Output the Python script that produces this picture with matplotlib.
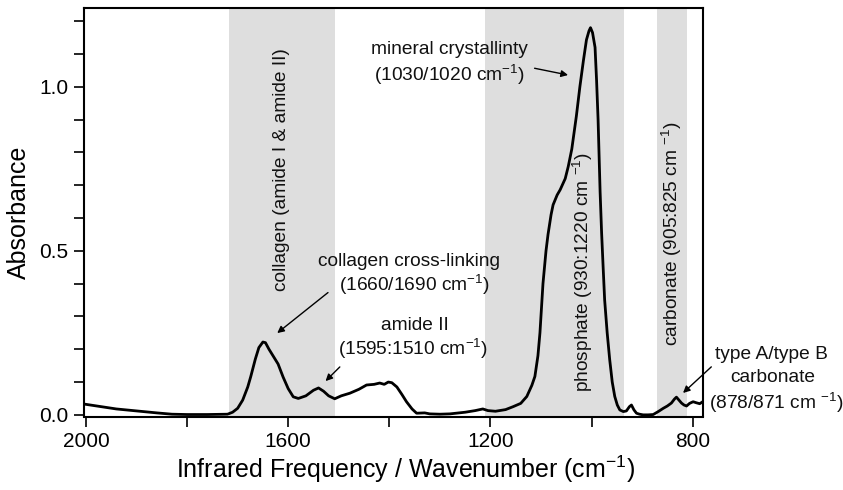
import matplotlib
matplotlib.use("Agg")
import matplotlib.pyplot as plt
from matplotlib.ticker import MultipleLocator, FixedLocator

plt.rcParams['font.family'] = ['Liberation Sans', 'DejaVu Sans']
plt.rcParams['mathtext.fontset'] = 'custom'
plt.rcParams['mathtext.rm'] = 'Liberation Sans'
plt.rcParams['mathtext.default'] = 'regular'

# spectrum
wavenumber = [2000, 1970, 1940, 1900, 1860, 1830, 1800, 1760, 1720, 1710, 1700, 1690,
              1680, 1674, 1665, 1658, 1650, 1645, 1638, 1628, 1620, 1610, 1600, 1590,
              1580, 1565, 1550, 1540, 1530, 1520, 1508, 1495, 1478, 1460, 1445, 1430,
              1419, 1410, 1402, 1395, 1385, 1375, 1366, 1355, 1346, 1330, 1320, 1300,
              1280, 1250, 1230, 1215, 1205, 1190, 1170, 1155, 1140, 1128, 1118, 1112,
              1106, 1102, 1096, 1090, 1086, 1080, 1076, 1068, 1062, 1052, 1046, 1039,
              1030, 1023, 1016, 1010, 1005, 1002, 998, 993, 990, 987, 983, 980, 977,
              974, 969, 964, 959, 954, 949, 944, 937, 931, 925, 921, 916, 911, 905,
              898, 888, 878, 868, 858, 850, 842, 836, 832, 827, 822, 817, 812, 806,
              799, 793, 786, 780]
absorbance = [0.032, 0.025, 0.018, 0.012, 0.006, 0.002, 0.001, 0.001, 0.002, 0.008, 0.02, 0.045,
              0.085, 0.117, 0.17, 0.205, 0.222, 0.22, 0.2, 0.175, 0.155, 0.115, 0.08, 0.055,
              0.05, 0.058, 0.075, 0.082, 0.072, 0.058, 0.049, 0.058, 0.066, 0.078, 0.091, 0.093,
              0.097, 0.093, 0.1, 0.098, 0.085, 0.062, 0.04, 0.018, 0.005, 0.006, 0.003, 0.002,
              0.003, 0.008, 0.013, 0.018, 0.013, 0.011, 0.016, 0.025, 0.035, 0.056, 0.09, 0.117,
              0.18, 0.25, 0.40, 0.5, 0.55, 0.61, 0.64, 0.67, 0.686, 0.72, 0.757, 0.81,
              0.91, 1.0, 1.08, 1.143, 1.17, 1.18, 1.165, 1.12, 1.02, 0.9, 0.68, 0.554, 0.45,
              0.35, 0.25, 0.168, 0.1, 0.056, 0.03, 0.015, 0.01, 0.012, 0.025, 0.03, 0.015, 0.005, 0.002,
              0.0, 0.0, 0.001, 0.01, 0.02, 0.027, 0.036, 0.048, 0.054, 0.045, 0.036, 0.03, 0.027, 0.035,
              0.04, 0.037, 0.034, 0.04]

band_start = [1717, 1211, 871]
band_end = [1508, 936, 812]

x_major = [2000, 1600, 1200, 800]
x_minor = [1800, 1400, 1000]
y_major = [0.0, 0.5, 1.0]
y_labels = ["0.0", "0.5", "1.0"]

fig = plt.figure(figsize=(8.43, 4.9), dpi=100)
ax = fig.add_axes([0.0996, 0.15, 0.7346, 0.8337])

for a, b in zip(band_start, band_end):
    ax.axvspan(a, b, color='#dedede', lw=0, zorder=0)

ax.plot(wavenumber, absorbance, color='black', lw=2.0, zorder=3)

ax.set_xlim(2004, 779)
ax.set_ylim(-0.005, 1.24)

ax.xaxis.set_major_locator(FixedLocator(x_major))
ax.xaxis.set_minor_locator(FixedLocator(x_minor))
ax.set_xticklabels([str(v) for v in x_major])
ax.yaxis.set_major_locator(FixedLocator(y_major))
ax.set_yticklabels(y_labels)
ax.yaxis.set_minor_locator(MultipleLocator(0.1))
ax.tick_params(which='both', direction='out', length=7, width=1.2, labelsize=15, pad=4)
for s in ax.spines.values():
    s.set_linewidth(1.5)

ax.set_xlabel('Infrared Frequency / Wavenumber (cm$^{-1}$)', fontsize=18)
ax.xaxis.set_label_coords(0.519, -0.092)
ax.set_ylabel('Absorbance', fontsize=18, labelpad=6)

fs = 13.8
tc = '#111111'
ax.text(1614, 0.747, 'collagen (amide I & amide II)', rotation=90, ha='center', va='center', fontsize=fs, color=tc)
ax.text(1016, 0.436, 'phosphate (930:1220 cm $^{-1}$)', rotation=90, ha='center', va='center', fontsize=fs, color=tc)
ax.text(840, 0.552, 'carbonate (905:825 cm $^{-1}$)', rotation=90, ha='center', va='center', fontsize=fs, color=tc)

ax.text(1282, 1.115, 'mineral crystallinty', ha='center', va='center', fontsize=fs, color=tc)
ax.text(1282, 1.036, '(1030/1020 cm$^{-1}$)', ha='center', va='center', fontsize=fs, color=tc)
ax.annotate('', xy=(1041, 1.034), xytext=(1118, 1.058),
            arrowprops=dict(arrowstyle='-|>', color='black', lw=1, mutation_scale=10))

ax.text(1362, 0.467, 'collagen cross-linking', ha='center', va='center', fontsize=fs, color=tc)
ax.text(1351, 0.396, '(1660/1690 cm$^{-1}$)', ha='center', va='center', fontsize=fs, color=tc)
ax.annotate('', xy=(1626, 0.244), xytext=(1517, 0.378),
            arrowprops=dict(arrowstyle='-|>', color='black', lw=1, mutation_scale=10))

ax.text(1349, 0.271, 'amide II', ha='center', va='center', fontsize=fs, color=tc)
ax.text(1353, 0.2, '(1595:1510 cm$^{-1}$)', ha='center', va='center', fontsize=fs, color=tc)
ax.annotate('', xy=(1530, 0.097), xytext=(1494, 0.152),
            arrowprops=dict(arrowstyle='-|>', color='black', lw=1, mutation_scale=10))

ax.text(644, 0.183, 'type A/type B', ha='center', va='center', fontsize=fs, color=tc, clip_on=False)
ax.text(641, 0.115, 'carbonate', ha='center', va='center', fontsize=fs, color=tc, clip_on=False)
ax.text(635, 0.035, '(878/871 cm $^{-1}$)', ha='center', va='center', fontsize=fs, color=tc, clip_on=False)
ax.annotate('', xy=(823, 0.061), xytext=(759, 0.152),
            arrowprops=dict(arrowstyle='-|>', color='black', lw=1, mutation_scale=10),
            annotation_clip=False)

fig.savefig('out.png', dpi=100)
